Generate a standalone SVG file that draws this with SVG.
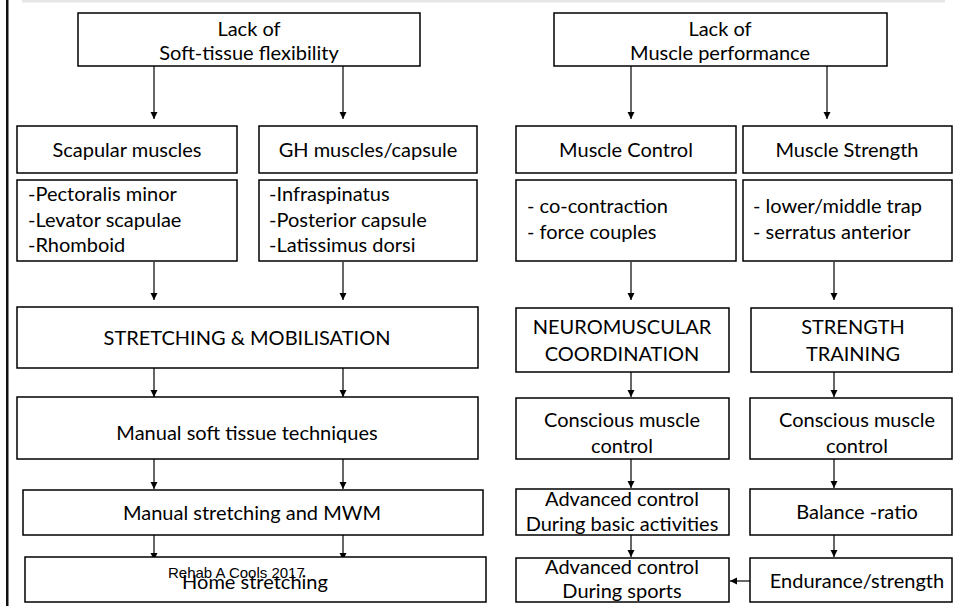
<svg xmlns="http://www.w3.org/2000/svg" width="953" height="606" viewBox="0 0 953 606">
  <defs>
    <marker id="arrow" markerWidth="8" markerHeight="8" refX="7" refY="4" orient="auto" markerUnits="userSpaceOnUse">
      <path d="M0,0.5 L7,4 L0,7.5 Z" fill="#000"/>
    </marker>
    <style>
      .box { fill: #fff; stroke: #000; stroke-width: 1.5; }
      .t { font-family: Lato, "Open Sans", sans-serif; font-size: 20px; fill: #000; }
      .c { text-anchor: middle; }
      .cr { font-family: "Liberation Sans", Arial, sans-serif; font-size: 15px; fill: #000; }
      .edge { stroke: #000; stroke-width: 1.2; fill: none; marker-end: url(#arrow); }
    </style>
  </defs>

  <rect width="953" height="606" fill="#fff"/>
  <!-- page decoration -->
  <rect x="22" y="0" width="923" height="2.5" fill="#e6e6e6"/>
  <rect x="6" y="0" width="2.5" height="606" fill="#111"/>

  <!-- connectors -->
  <g id="connectors">
    <line class="edge" x1="154" y1="66" x2="154" y2="119"/>
    <line class="edge" x1="343" y1="66" x2="343" y2="119"/>
    <line class="edge" x1="631" y1="66" x2="631" y2="119"/>
    <line class="edge" x1="827" y1="66" x2="827" y2="119"/>

    <line class="edge" x1="154" y1="262" x2="154" y2="300"/>
    <line class="edge" x1="343" y1="262" x2="343" y2="300"/>
    <line class="edge" x1="631" y1="262" x2="631" y2="300"/>
    <line class="edge" x1="834" y1="262" x2="834" y2="300"/>

    <line class="edge" x1="154" y1="368" x2="154" y2="397"/>
    <line class="edge" x1="343" y1="368" x2="343" y2="397"/>
    <line class="edge" x1="631" y1="372" x2="631" y2="397"/>
    <line class="edge" x1="834" y1="372" x2="834" y2="397"/>

    <line class="edge" x1="154" y1="459" x2="154" y2="489"/>
    <line class="edge" x1="343" y1="459" x2="343" y2="489"/>
    <line class="edge" x1="631" y1="459" x2="631" y2="488"/>
    <line class="edge" x1="834" y1="459" x2="834" y2="488"/>

    <line class="edge" x1="154" y1="535" x2="154" y2="560"/>
    <line class="edge" x1="343" y1="535" x2="343" y2="560"/>
    <line class="edge" x1="631" y1="535" x2="631" y2="557"/>
    <line class="edge" x1="834" y1="535" x2="834" y2="557"/>

    <line class="edge" x1="750" y1="581" x2="730" y2="581"/>
  </g>

  <!-- left branch: soft-tissue flexibility -->
  <g id="lack-flexibility">
    <rect class="box" x="78" y="13" width="342" height="53"/>
    <text class="t c" x="249" y="36">Lack of</text>
    <text class="t c" x="249" y="60">Soft-tissue flexibility</text>
  </g>
  <g id="scapular-muscles">
    <rect class="box" x="17" y="126" width="220" height="47"/>
    <text class="t c" x="127" y="157">Scapular muscles</text>
  </g>
  <g id="gh-muscles">
    <rect class="box" x="259" y="126" width="218" height="47"/>
    <text class="t c" x="368" y="157">GH muscles/capsule</text>
  </g>
  <g id="scapular-list">
    <rect class="box" x="17" y="180" width="220" height="81"/>
    <text class="t" x="28" y="201">-Pectoralis minor</text>
    <text class="t" x="28" y="227">-Levator scapulae</text>
    <text class="t" x="28" y="252">-Rhomboid</text>
  </g>
  <g id="gh-list">
    <rect class="box" x="259" y="180" width="218" height="81"/>
    <text class="t" x="269" y="201">-Infraspinatus</text>
    <text class="t" x="269" y="227">-Posterior capsule</text>
    <text class="t" x="269" y="252">-Latissimus dorsi</text>
  </g>
  <g id="stretching-mobilisation">
    <rect class="box" x="17" y="307" width="461" height="61"/>
    <text class="t c" x="247" y="345">STRETCHING &amp; MOBILISATION</text>
  </g>
  <g id="manual-soft-tissue">
    <rect class="box" x="17" y="397" width="461" height="62"/>
    <text class="t c" x="247" y="440">Manual soft tissue techniques</text>
  </g>
  <g id="manual-stretching">
    <rect class="box" x="23" y="490" width="460" height="45"/>
    <text class="t c" x="252" y="520">Manual stretching and MWM</text>
  </g>
  <g id="home-stretching">
    <rect class="box" x="25" y="557" width="461" height="45"/>
    <text class="cr" x="168" y="578">Rehab A Cools 2017</text>
    <text class="t c" x="255" y="589">Home stretching</text>
  </g>

  <!-- right branch: muscle performance -->
  <g id="lack-performance">
    <rect class="box" x="554" y="13" width="333" height="53"/>
    <text class="t c" x="720" y="36">Lack of</text>
    <text class="t c" x="720" y="60">Muscle performance</text>
  </g>
  <g id="muscle-control">
    <rect class="box" x="516" y="126" width="220" height="47"/>
    <text class="t c" x="626" y="157">Muscle Control</text>
  </g>
  <g id="muscle-strength">
    <rect class="box" x="743" y="126" width="209" height="47"/>
    <text class="t c" x="847" y="157">Muscle Strength</text>
  </g>
  <g id="control-list">
    <rect class="box" x="516" y="180" width="220" height="81"/>
    <text class="t" x="527" y="213">- co-contraction</text>
    <text class="t" x="527" y="239">- force couples</text>
  </g>
  <g id="strength-list">
    <rect class="box" x="743" y="180" width="209" height="81"/>
    <text class="t" x="753" y="213">- lower/middle trap</text>
    <text class="t" x="753" y="239">- serratus anterior</text>
  </g>
  <g id="neuromuscular">
    <rect class="box" x="516" y="308" width="213" height="64"/>
    <text class="t c" x="622" y="334">NEUROMUSCULAR</text>
    <text class="t c" x="622" y="361">COORDINATION</text>
  </g>
  <g id="strength-training">
    <rect class="box" x="751" y="308" width="201" height="64"/>
    <text class="t c" x="853" y="334">STRENGTH</text>
    <text class="t c" x="853" y="361">TRAINING</text>
  </g>
  <g id="conscious-control-1">
    <rect class="box" x="516" y="398" width="213" height="61"/>
    <text class="t c" x="622" y="427">Conscious muscle</text>
    <text class="t c" x="622" y="453">control</text>
  </g>
  <g id="conscious-control-2">
    <rect class="box" x="750" y="398" width="202" height="61"/>
    <text class="t c" x="857" y="427">Conscious muscle</text>
    <text class="t c" x="857" y="453">control</text>
  </g>
  <g id="advanced-basic">
    <rect class="box" x="516" y="489" width="213" height="46"/>
    <text class="t c" x="622" y="506">Advanced control</text>
    <text class="t c" x="622" y="531">During basic activities</text>
  </g>
  <g id="balance-ratio">
    <rect class="box" x="750" y="489" width="202" height="46"/>
    <text class="t c" x="857" y="519">Balance -ratio</text>
  </g>
  <g id="advanced-sports">
    <rect class="box" x="516" y="558" width="213" height="44"/>
    <text class="t c" x="622" y="574">Advanced control</text>
    <text class="t c" x="622" y="598">During sports</text>
  </g>
  <g id="endurance-strength">
    <rect class="box" x="750" y="558" width="202" height="44"/>
    <text class="t c" x="857" y="588">Endurance/strength</text>
  </g>
</svg>
